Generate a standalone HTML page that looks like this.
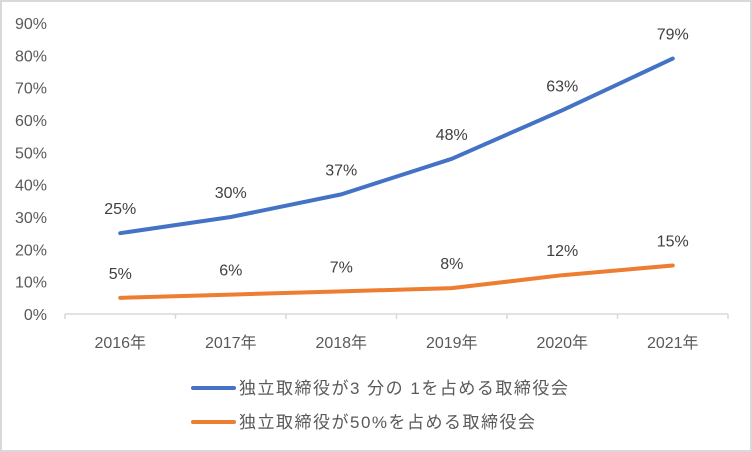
<!DOCTYPE html>
<html><head><meta charset="utf-8"><style>
body{margin:0;background:#fff}
svg{display:block;font-family:"Liberation Sans","Noto Sans CJK JP",sans-serif}
</style></head><body>
<svg id="chart" width="752" height="452">
<rect x="1" y="1" width="750" height="450" fill="#fff" stroke="#d9d9d9" stroke-width="2"/>
<g id="g"></g>
</svg>
<script>
const categories=["2016年","2017年","2018年","2019年","2020年","2021年"];
const seriesThird=[25,30,37,48,63,79];
const seriesHalf=[5,6,7,8,12,15];
const yTicks=[0,10,20,30,40,50,60,70,80,90];
const seriesNames=["独立取締役が3 分の 1を占める取締役会","独立取締役が50%を占める取締役会"];
const colors=["#4472c4","#ed7d31"];
const NS="http://www.w3.org/2000/svg";
const g=document.getElementById('g');
const L=65,R=728,T=23,B=314;
const step=(R-L)/categories.length;
const x=i=>L+step*(i+0.5);
const y=v=>B-(B-T)*v/90;
function mk(tag,a,txt){const e=document.createElementNS(NS,tag);for(const k in a)e.setAttribute(k,a[k]);if(txt!=null)e.textContent=txt;g.appendChild(e);return e;}
yTicks.forEach(v=>{
const t=mk('text',{x:47,y:y(v)+6,'text-anchor':'end','font-size':16,fill:'#595959'},v+'%');


});
const ax=mk('line',{x1:L,y1:B,x2:R,y2:B,stroke:'#d9d9d9','stroke-width':1.5});


for(let i=0;i<=categories.length;i++){
const tk=mk('line',{x1:L+step*i,y1:B,x2:L+step*i,y2:B+5,stroke:'#d9d9d9','stroke-width':1.5});


}
categories.forEach((c,i)=>{
const t=mk('text',{x:x(i),y:348,'text-anchor':'middle','font-size':16,fill:'#595959'},c);


});
[seriesThird,seriesHalf].forEach((s,si)=>{
const p=mk('polyline',{points:s.map((v,i)=>x(i)+','+y(v)).join(' '),fill:'none',stroke:colors[si],'stroke-width':4,'stroke-linecap':'round','stroke-linejoin':'round'});


s.forEach((v,i)=>{
const t=mk('text',{x:x(i),y:y(v)-19,'text-anchor':'middle','font-size':16,fill:'#404040'},v+'%');


});
const ly=388+si*34;
const ll=mk('line',{x1:193,y1:ly,x2:234,y2:ly,stroke:colors[si],'stroke-width':4,'stroke-linecap':'round'});


const lt=mk('text',{x:239,y:ly+6,'font-size':17,'letter-spacing':1.5,fill:'#595959'},seriesNames[si]);


});
</script>
</body></html>
